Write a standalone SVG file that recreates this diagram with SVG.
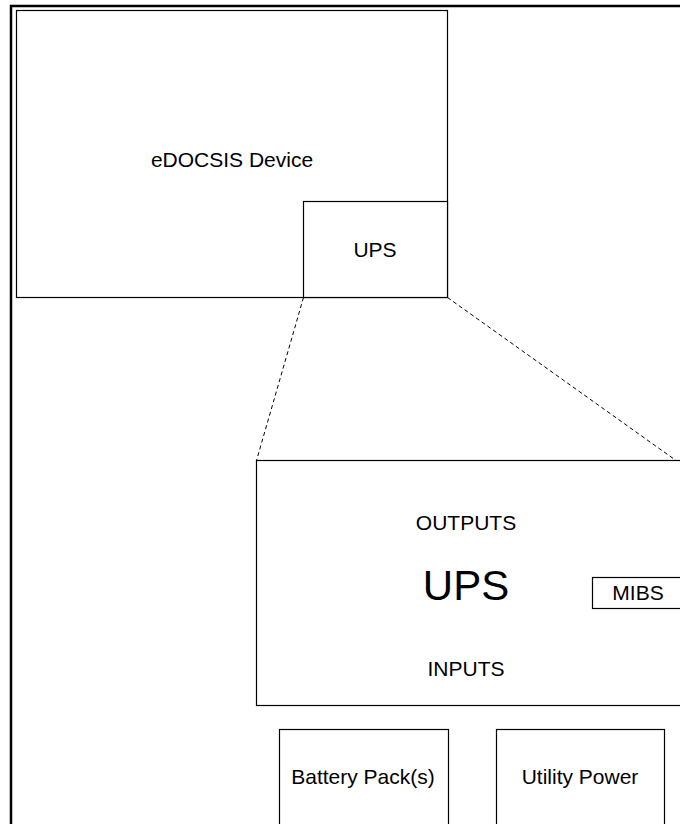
<svg xmlns="http://www.w3.org/2000/svg" width="680" height="824" viewBox="0 0 680 824">
<style>
.box{fill:#fff;stroke:#000;stroke-width:1.2}
.t{font-family:"Liberation Sans",Arial,sans-serif;font-size:21px;fill:#000;text-anchor:middle}
.big{font-size:42px}
.dash{stroke:#000;stroke-width:1;stroke-dasharray:4,3;fill:none}
</style>
<rect width="680" height="824" fill="#fff"/>
<g id="frame"><path d="M11,830 V6 H690" fill="none" stroke="#000" stroke-width="2.5"/></g>
<g id="edocsis"><rect class="box" x="16.5" y="10.5" width="431" height="287"/><text class="t" x="232" y="167">eDOCSIS Device</text></g>
<g id="ups-small"><rect class="box" x="303.5" y="201.5" width="144" height="96"/><text class="t" x="375" y="257">UPS</text></g>
<g id="connectors">
<line class="dash" x1="303.5" y1="297.5" x2="256.5" y2="460.5"/>
<line class="dash" x1="447.5" y1="297.5" x2="676" y2="460.5"/>
</g>
<g id="ups-big"><rect class="box" x="256.5" y="460.5" width="440" height="245"/>
<text class="t" x="466" y="530">OUTPUTS</text>
<text class="t big" x="466" y="600">UPS</text>
<text class="t" x="466" y="676">INPUTS</text>
</g>
<g id="mibs"><rect class="box" x="592.5" y="577.5" width="100" height="31"/><text class="t" x="638" y="600">MIBS</text></g>
<g id="battery"><rect class="box" x="279.5" y="729.5" width="169" height="110"/><text class="t" x="363" y="784">Battery Pack(s)</text></g>
<g id="utility"><rect class="box" x="496.5" y="729.5" width="168" height="110"/><text class="t" x="580" y="784">Utility Power</text></g>
</svg>
